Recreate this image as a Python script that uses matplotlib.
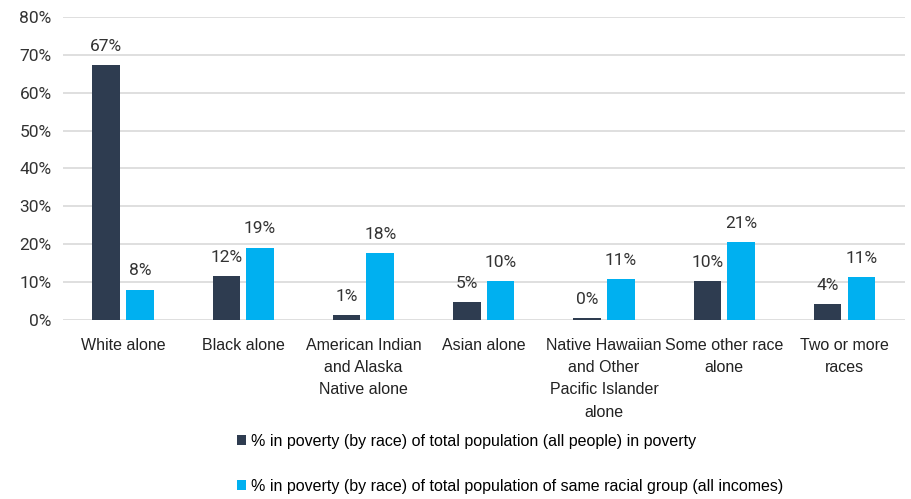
import matplotlib
matplotlib.use("Agg")
import matplotlib.pyplot as plt
import numpy as np

categories = ['White alone', 'Black alone', 'American Indian\nand Alaska\nNative alone',
              'Asian alone', 'Native Hawaiian\nand Other\nPacific Islander\nalone',
              'Some other race\nalone', 'Two or more\nraces']
share_of_poor = [67.4, 11.6, 1.3, 4.6, 0.4, 10.3, 4.2]
rate_in_group = [8.0, 19.1, 17.6, 10.2, 10.8, 20.6, 11.2]
series_names = ['% in poverty (by race) of total population (all people) in poverty',
                '% in poverty (by race) of total population of same racial group (all incomes)']

dark = '#2E3C50'
light = '#00B0F0'
narrow = ['Liberation Sans', 'DejaVu Sans']
label_font = ['Roboto', 'DejaVu Sans']

fig = plt.figure(figsize=(9.11, 4.99), dpi=100)
ax = fig.add_axes([0.069, 0.359, 0.924, 0.607])

x = np.arange(len(categories))
w = 0.23
gap = 0.025
b1 = ax.bar(x - w / 2 - gap, share_of_poor, w, color=dark, label=series_names[0])
b2 = ax.bar(x + w / 2 + gap, rate_in_group, w, color=light, label=series_names[1])

for bars, vals in [(b1, share_of_poor), (b2, rate_in_group)]:
    for b, v in zip(bars, vals):
        ax.annotate('{:.0f}%'.format(v), (b.get_x() + b.get_width() / 2, v),
                    xytext=(0, 8), textcoords='offset points', ha='center', va='bottom',
                    fontsize=12.5, color='#333333', family=label_font)

ax.set_ylim(0, 80)
ax.set_xlim(-0.5, len(categories) - 0.5)
ax.set_yticks(np.arange(0, 81, 10))
ax.set_yticklabels(['{}%'.format(t) for t in range(0, 81, 10)], family=label_font,
                   fontsize=12.5, color='#333333')
ax.set_xticks(x)
ax.set_xticklabels(categories, family=narrow, fontsize=11.5, color='#222222', linespacing=1.6)
ax.tick_params(length=0)
ax.tick_params(axis='x', pad=13)
ax.tick_params(axis='y', pad=8)
ax.grid(axis='y', color='#D9D9D9', linewidth=1.2)
ax.set_axisbelow(True)
for s in ax.spines.values():
    s.set_visible(False)

leg = fig.legend(handles=[b1, b2], loc='lower left', bbox_to_anchor=(0.244, -0.018),
                 frameon=False, ncol=1, prop={'family': narrow, 'size': 11.5},
                 handlelength=0.6, handleheight=0.6, handletextpad=0.3, labelspacing=1.85)

fig.savefig('out.png', dpi=100)
